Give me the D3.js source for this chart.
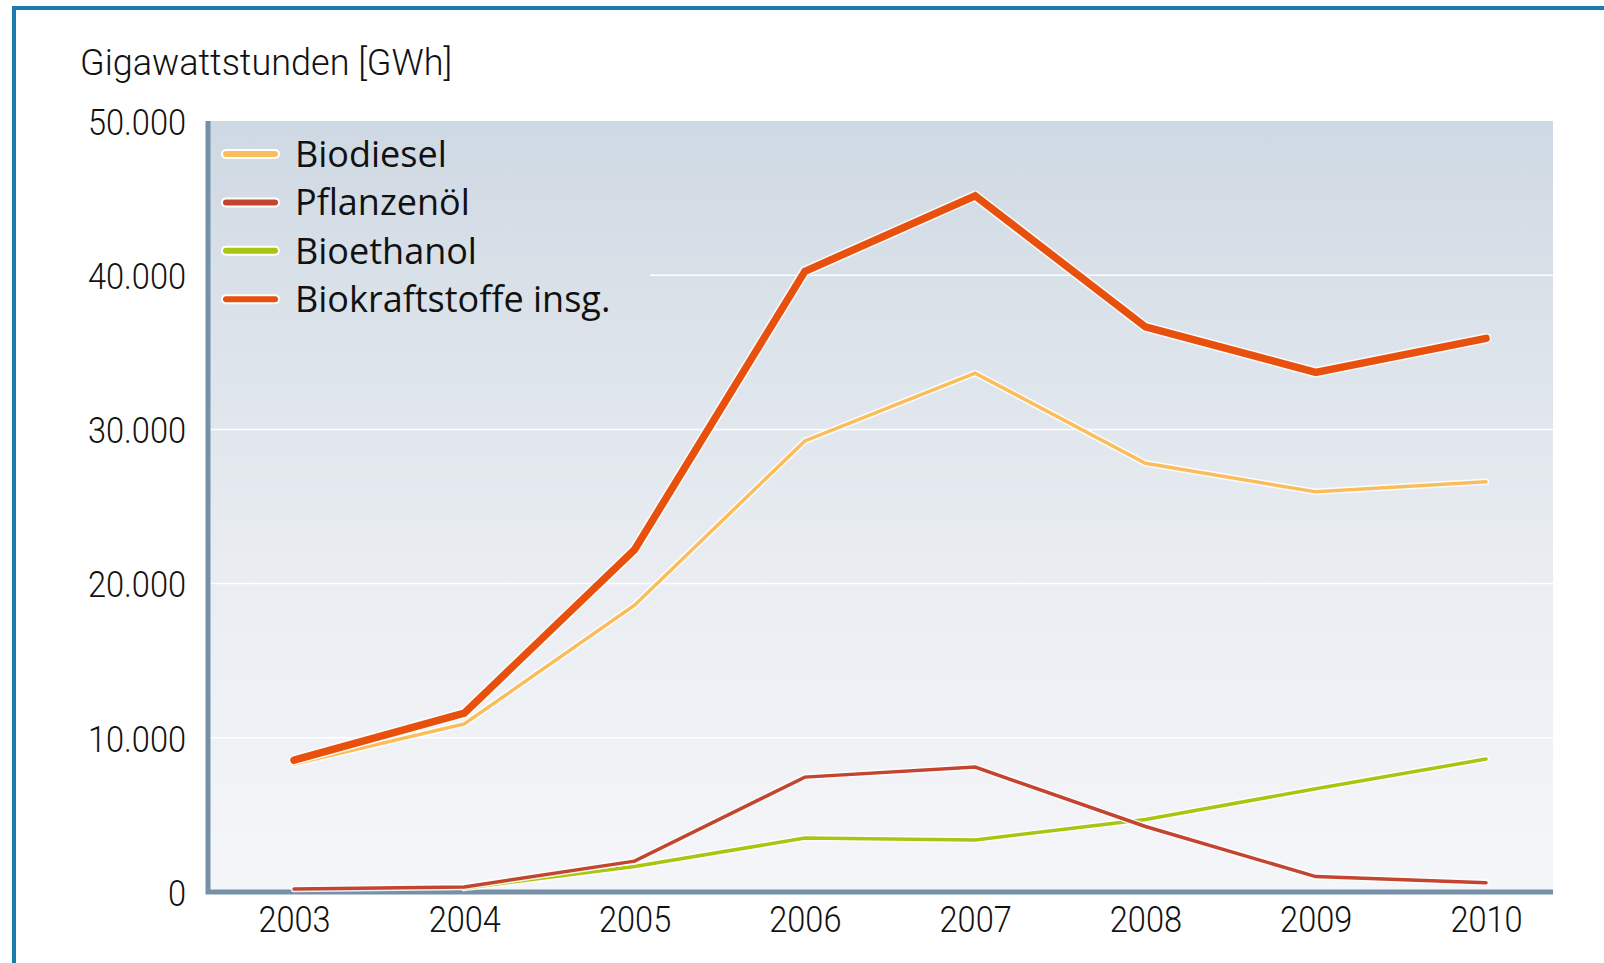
<!DOCTYPE html>
<html>
<head>
<meta charset="utf-8">
<script src="https://cdn.jsdelivr.net/npm/d3@7"></script>
<style>
  body { margin: 0; background: #fff; }
  svg { display: block; }
  .tick-text { font-family: Roboto, sans-serif; font-weight: 300; fill: #111; }
  .legend-text { font-family: "Open Sans", sans-serif; fill: #111; }
</style>
</head>
<body>
<div id="chart"></div>
<script>
// Data (GWh)
const years = [2003, 2004, 2005, 2006, 2007, 2008, 2009, 2010];
const biodiesel = [8300, 10900, 18600, 29250, 33650, 27800, 25950, 26600];
const pflanzenoel = [200, 330, 2000, 7450, 8100, 4250, 1000, 600];
const bioethanol = [null, 250, 1650, 3500, 3380, 4700, 6700, 8620];
const insgesamt = [8550, 11600, 22200, 40250, 45150, 36650, 33700, 35900];
const yTicks = [0, 10000, 20000, 30000, 40000, 50000];

const series = [
  { name: "Biodiesel", values: biodiesel, color: "#fbbd5c", width: 3.5 },
  { name: "Pflanzenöl", values: pflanzenoel, color: "#c4452f", width: 3.5 },
  { name: "Bioethanol", values: bioethanol, color: "#a9c511", width: 3.5 },
  { name: "Biokraftstoffe insg.", values: insgesamt, color: "#e8500d", width: 7.5 }
];
// drawing order: thin lines first, total on top
const drawOrder = [2, 1, 0, 3];

const width = 1604;
const height = 963;
const plot = { left: 208, right: 1553, top: 121, bottom: 892 };
const squeeze = 0.88; // the axis font is a condensed one

const svg = d3
  .select("#chart")
  .append("svg")
  .attr("width", width)
  .attr("height", height);

// outer frame
svg
  .append("path")
  .attr("d", `M14,${height + 5} L14,8 L${width + 5},8`)
  .attr("fill", "none")
  .attr("stroke", "#1c7aae")
  .attr("stroke-width", 4);

const defs = svg.append("defs");
const grad = defs
  .append("linearGradient")
  .attr("id", "bg")
  .attr("x1", 0)
  .attr("y1", 0)
  .attr("x2", 0)
  .attr("y2", 1);
grad.append("stop").attr("offset", "0%").attr("stop-color", "#cfd9e3");
grad.append("stop").attr("offset", "55%").attr("stop-color", "#e8ecf1");
grad.append("stop").attr("offset", "100%").attr("stop-color", "#f5f6f9");

const x = d3.scaleLinear().domain([2003, 2010]).range([294, 1486]);
const y = d3.scaleLinear().domain([0, 50000]).range([plot.bottom, plot.top]);

svg
  .append("rect")
  .attr("x", plot.left)
  .attr("y", plot.top)
  .attr("width", plot.right - plot.left)
  .attr("height", plot.bottom - plot.top)
  .attr("fill", "url(#bg)");

// gridlines (the 40.000 line stops at the legend)
svg
  .selectAll(".grid")
  .data(yTicks.filter((d) => d > 0 && d < 50000))
  .enter()
  .append("line")
  .attr("class", "grid")
  .attr("x1", (d) => (d === 40000 ? 650 : plot.left))
  .attr("x2", plot.right)
  .attr("y1", (d) => y(d))
  .attr("y2", (d) => y(d))
  .attr("stroke", "#ffffff")
  .attr("stroke-width", 1.5);

// axes
const fmt = (d) => d3.format(",")(d).replace(/,/g, ".");
const yAxis = svg
  .append("g")
  .attr("transform", `translate(${plot.left},0)`)
  .call(d3.axisLeft(y).tickValues(yTicks).tickSize(0).tickFormat(fmt));
yAxis.select(".domain").remove();
yAxis
  .selectAll("text")
  .attr("class", "tick-text")
  .attr("x", -22 / squeeze)
  .attr("transform", `scale(${squeeze},1)`)
  .style("font-size", "37px")
  .attr("dy", "0.36em");

const xAxis = svg
  .append("g")
  .attr("transform", `translate(0,${plot.bottom})`)
  .call(d3.axisBottom(x).tickValues(years).tickSize(0).tickPadding(10).tickFormat(d3.format("d")));
xAxis.select(".domain").remove();
xAxis
  .selectAll("text")
  .attr("class", "tick-text")
  .attr("transform", `scale(${squeeze},1)`)
  .style("font-size", "37px")
  .attr("dy", "0.82em");

svg
  .append("path")
  .attr("d", `M${plot.left},${plot.top} L${plot.left},${plot.bottom} L${plot.right},${plot.bottom}`)
  .attr("fill", "none")
  .attr("stroke", "#7590a7")
  .attr("stroke-width", 5);

svg
  .append("text")
  .attr("class", "tick-text")
  .attr("transform", "translate(80,75)")
  .style("font-size", "36px")
  .text("Gigawattstunden [GWh]");

// lines
const line = d3
  .line()
  .defined((d) => d !== null)
  .x((d, i) => x(years[i]))
  .y((d) => y(d));

drawOrder.forEach((k) => {
  const s = series[k];
  svg
    .append("path")
    .attr("d", line(s.values))
    .attr("fill", "none")
    .attr("stroke", "#ffffff")
    .attr("stroke-opacity", 0.85)
    .attr("stroke-width", s.width + 3)
    .attr("stroke-linejoin", "round")
    .attr("stroke-linecap", "round");
  svg
    .append("path")
    .attr("d", line(s.values))
    .attr("fill", "none")
    .attr("stroke", s.color)
    .attr("stroke-width", s.width)
    .attr("stroke-linejoin", "miter")
    .attr("stroke-linecap", "round");
});

// legend
const legend = svg.append("g");
const item = legend
  .selectAll(".legend-item")
  .data(series)
  .enter()
  .append("g")
  .attr("class", "legend-item")
  .attr("transform", (d, i) => `translate(0,${167 + i * 48.4})`);
item
  .append("line")
  .attr("x1", 226)
  .attr("x2", 275)
  .attr("y1", -13)
  .attr("y2", -13)
  .attr("stroke", "#ffffff")
  .attr("stroke-width", 10)
  .attr("stroke-linecap", "round");
item
  .append("line")
  .attr("x1", 226)
  .attr("x2", 275)
  .attr("y1", -13)
  .attr("y2", -13)
  .attr("stroke", (d) => d.color)
  .attr("stroke-width", 6)
  .attr("stroke-linecap", "round");
item
  .append("text")
  .attr("class", "legend-text")
  .attr("x", 295)
  .attr("y", 0)
  .style("font-size", "36px")
  .text((d) => d.name);
</script>
</body>
</html>
